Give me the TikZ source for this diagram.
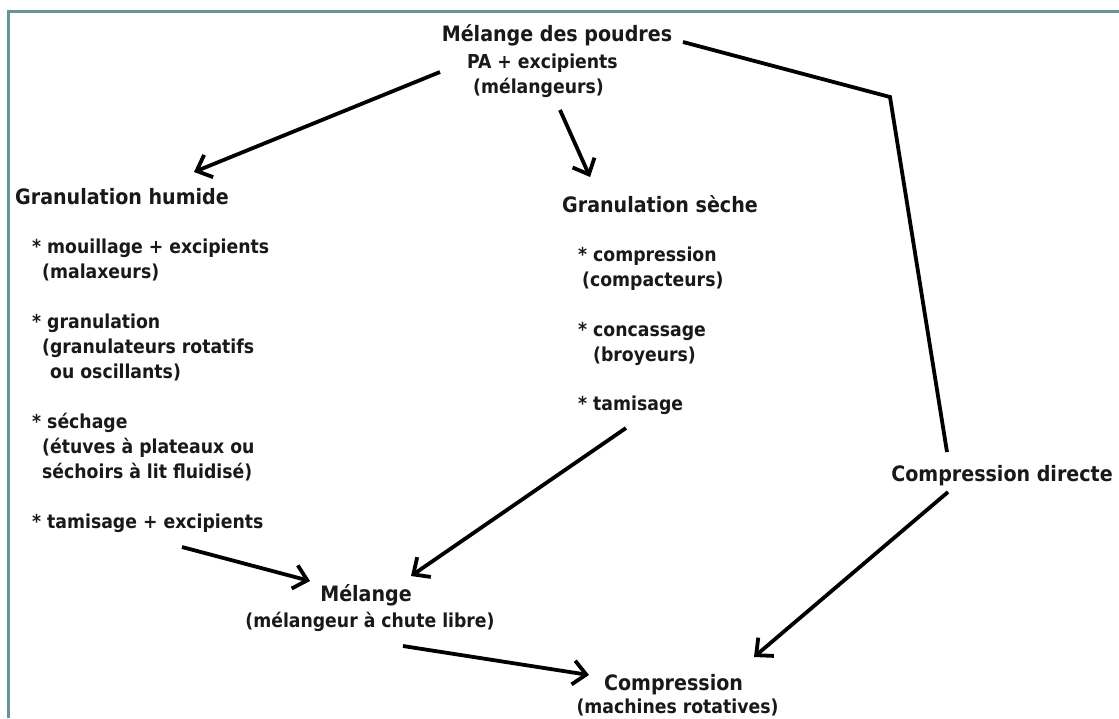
\documentclass[tikz,border=0pt]{standalone}
\usepackage{fontspec}
\setmainfont{DejaVu Sans Condensed}
\usetikzlibrary{arrows.meta,calc}
\definecolor{frame}{RGB}{100,150,150}
\definecolor{ink}{RGB}{25,25,25}
\tikzset{
  hdr/.style={inner sep=0pt, text=ink, font=\bfseries\fontsize{21.2}{25}\selectfont},
  itm/.style={inner sep=0pt, text=ink, font=\bfseries\fontsize{19.2}{25}\selectfont},
  conn/.style={line width=3.8pt, black},
  arr/.style={conn, -{Straight Barb[length=13pt,width=24pt]}},
}
\begin{document}
\begin{tikzpicture}[x=1pt,y=-1pt]
\useasboundingbox (0,0) rectangle (1119,718);
\fill[white] (0,0) rectangle (1119,718);
\draw[frame, line width=2.5pt] (1119,11.5) -- (8.5,11.5) -- (8.5,718);
% top
\node[hdr, anchor=base] (top1) at (557,41) {Mélange des poudres};
\node[itm, anchor=base] (top2) at (542.5,68) {PA + excipients};
\node[itm, anchor=base] (top3) at (538.5,93) {(mélangeurs)};
% granulation humide
\node[hdr, anchor=base west] (gh) at (15,204) {Granulation humide};
\node[itm, anchor=base west] (gh1) at (32,253) {* mouillage + excipients};
\node[itm, anchor=base west] (gh2) at (42,278) {(malaxeurs)};
\node[itm, anchor=base west] (gh3) at (32,328) {* granulation};
\node[itm, anchor=base west] (gh4) at (42,353) {(granulateurs rotatifs};
\node[itm, anchor=base west] (gh5) at (50,378) {ou oscillants)};
\node[itm, anchor=base west] (gh6) at (32,428) {* séchage};
\node[itm, anchor=base west] (gh7) at (42,453) {(étuves à plateaux ou};
\node[itm, anchor=base west] (gh8) at (42,478) {séchoirs à lit fluidisé)};
\node[itm, anchor=base west] (gh9) at (32,528) {* tamisage + excipients};
% granulation seche
\node[hdr, anchor=base west] (gs) at (562,212) {Granulation sèche};
\node[itm, anchor=base west] (gs1) at (578,261) {* compression};
\node[itm, anchor=base west] (gs2) at (582,286) {(compacteurs)};
\node[itm, anchor=base west] (gs3) at (578,336) {* concassage};
\node[itm, anchor=base west] (gs4) at (593,361) {(broyeurs)};
\node[itm, anchor=base west] (gs5) at (578,410) {* tamisage};
% melange
\node[hdr, anchor=base] (mel) at (366,601) {Mélange};
\node[itm, anchor=base] (mel2) at (370,627) {(mélangeur à chute libre)};
% compression
\node[hdr, anchor=base] (comp) at (673.5,690) {Compression};
\node[itm, anchor=base] (comp2) at (677.5,713) {(machines rotatives)};
% compression directe
\node[hdr, anchor=base] (cd) at (1002,481) {Compression directe};
\coordinate (corner) at (890,97);
% connectors
\draw[arr] ([shift={(-102.5,4)}]top2.base) -- ([shift={(179,-32)}]gh.base west);
\draw[arr] ([shift={(21.5,17)}]top3.base) -- ([shift={(28,-35)}]gs.base west);
\draw[conn, line join=miter] ([shift={(126,1)}]top1.base) -- (corner) -- ([shift={(-55,-29)}]cd.base);
\draw[arr] ([shift={(-54,11)}]cd.base) -- ([shift={(80.5,-33)}]comp.base);
\draw[arr] ([shift={(48,18)}]gs5.base west) -- ([shift={(45,-25)}]mel.base);
\draw[arr] ([shift={(150,19)}]gh9.base west) -- ([shift={(-56,-20)}]mel.base);
\draw[arr] ([shift={(33,19)}]mel2.base) -- ([shift={(-84.5,-15)}]comp.base);
\end{tikzpicture}
\end{document}
